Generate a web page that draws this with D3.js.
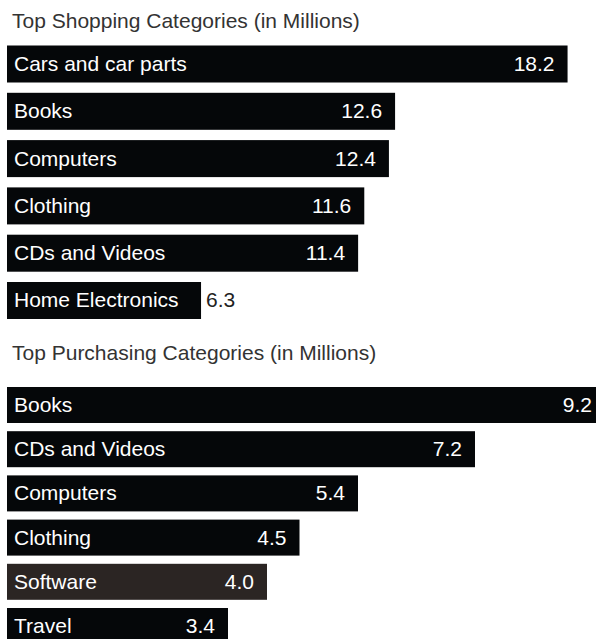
<!DOCTYPE html>
<html>
<head>
<meta charset="utf-8">
<script src="https://cdn.jsdelivr.net/npm/d3@7/dist/d3.min.js"></script>
<style>
  html, body { margin: 0; padding: 0; background: #ffffff; overflow: hidden; }
  svg { display: block; }
  text { font-family: "Liberation Sans", Arial, Helvetica, sans-serif; }
</style>
</head>
<body>
<svg id="chart" width="596" height="639"></svg>
<script>
// Online shopping vs. purchasing, values in millions
const shopTitle = "Top Shopping Categories (in Millions)";
const shopCategories = ["Cars and car parts", "Books", "Computers", "Clothing", "CDs and Videos", "Home Electronics"];
const shopValues = [18.2, 12.6, 12.4, 11.6, 11.4, 6.3];

const buyTitle = "Top Purchasing Categories (in Millions)";
const buyCategories = ["Books", "CDs and Videos", "Computers", "Clothing", "Software", "Travel"];
const buyValues = [9.2, 7.2, 5.4, 4.5, 4.0, 3.4];

const svg = d3.select("#chart");
const FONT = 21;

function panel(opts) {
  const { title, categories, values, titleY, top, step, barH, pxPerUnit, accent } = opts;
  const left = 7;
  const g = svg.append("g");

  g.append("text")
    .attr("x", 12)
    .attr("y", titleY)
    .attr("font-size", FONT)
    .attr("fill", "#333333")
    .text(title);

  const maxV = d3.max(values);
  const x = d3.scaleLinear().domain([0, maxV]).range([0, maxV * pxPerUnit]);
  // range spans (n-1) steps plus one bar, so the band step equals `step`
  const y = d3.scaleBand()
    .domain(categories)
    .range([top, top + step * (categories.length - 1) + barH])
    .paddingInner(1 - barH / step)
    .paddingOuter(0)
    .align(0);

  const rows = g.selectAll("g.row")
    .data(categories.map((c, i) => ({ c, v: values[i] })))
    .join("g")
    .attr("class", "row");

  rows.append("rect")
    .attr("x", left)
    .attr("y", d => y(d.c))
    .attr("width", d => x(d.v))
    .attr("height", y.bandwidth())
    .attr("fill", d => accent[d.c] || "#050709");

  rows.append("text")
    .attr("x", left + 7)
    .attr("y", d => y(d.c) + y.bandwidth() / 2)
    .attr("dy", "0.33em")
    .attr("font-size", FONT)
    .attr("fill", "#ffffff")
    .text(d => d.c);

  // value label sits inside the bar end unless it would collide with the name
  rows.each(function (d) {
    const row = d3.select(this);
    const nameEnd = left + 7 + row.select("text").node().getComputedTextLength();
    const barEnd = left + x(d.v);
    const label = row.append("text")
      .attr("y", y(d.c) + y.bandwidth() / 2)
      .attr("dy", "0.33em")
      .attr("font-size", FONT)
      .text(d.v.toFixed(1));
    const w = label.node().getComputedTextLength();
    if (barEnd - 13 - w > nameEnd + 8) {
      label.attr("x", barEnd - 13).attr("text-anchor", "end").attr("fill", "#ffffff");
    } else {
      label.attr("x", barEnd + 5).attr("text-anchor", "start").attr("fill", "#222222");
    }
  });
}

panel({
  title: shopTitle,
  categories: shopCategories,
  values: shopValues,
  titleY: 28,
  top: 45.5,
  step: 47.3,
  barH: 37,
  pxPerUnit: 30.8,
  accent: {}
});

panel({
  title: buyTitle,
  categories: buyCategories,
  values: buyValues,
  titleY: 360,
  top: 387,
  step: 44.2,
  barH: 36,
  pxPerUnit: 65,
  accent: { "Software": "#2b2523" }
});
</script>
</body>
</html>
